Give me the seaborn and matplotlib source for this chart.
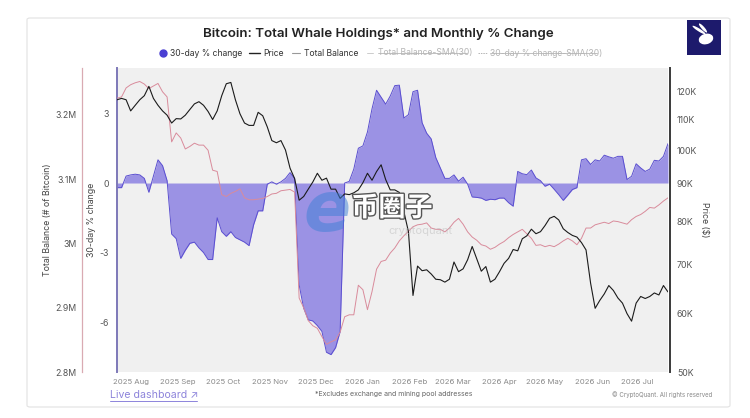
import matplotlib
matplotlib.use('Agg')
import matplotlib.pyplot as plt
import matplotlib.dates as mdates
import matplotlib.patheffects as pe
from matplotlib.patches import Rectangle, FancyBboxPatch, Ellipse
from matplotlib.lines import Line2D
from matplotlib.ticker import FixedLocator, NullLocator
import seaborn as sns
import pandas as pd

dates = pd.date_range('2025-07-23', periods=122, freq='3D')

pct_change = [
    -0.2, -0.2, 0.3, 0.35, 0.38, 0.35, 0.2, -0.4, 0.3, 1.0,
    0.75, 0.1, -2.2, -2.4, -3.25, -2.9, -2.6, -2.55, -2.8, -3.0,
    -3.3, -3.3, -1.5, -2.1, -2.3, -2.1, -2.35, -2.45, -2.55, -2.7,
    -1.8, -1.2, -1.2, -0.05, 0.05, -0.05, 0.05, 0.2, 0.45, 0.2,
    -4.4, -5.4, -5.9, -5.95, -6.15, -6.4, -7.3, -7.4, -7.1, -6.4,
    0.0, 0.07, 0.6, 1.5, 1.6, 2.2, 3.2, 4.0, 3.7, 3.4,
    3.75, 4.2, 4.22, 2.8, 2.95, 3.94, 4.0, 2.6, 2.15, 1.9,
    1.1, 0.65, 0.2, 0.2, 0.35, 0.08, 0.25, -0.05, -0.6, -0.62,
    -0.65, -0.75, -0.7, -0.72, -0.65, -0.65, -0.85, -1.0, 0.5, 0.4,
    0.36, 0.56, 0.22, 0.1, -0.14, -0.05, -0.27, -0.5, -0.75, -0.52,
    -0.28, -0.2, 1.0, 1.05, 0.8, 1.0, 0.95, 1.2, 1.13, 1.07,
    1.15, 1.15, 0.15, 0.29, 0.83, 0.65, 0.5, 0.6, 0.98, 0.95,
    1.15, 1.7,
]

price = [
    117, 117.5, 117, 113, 115, 117, 118.5, 122, 117.5, 115,
    113, 111.5, 108.8, 110.3, 110.2, 111.5, 113.5, 115.5, 116.3, 115,
    112.8, 110, 113, 118.5, 123, 123.5, 117, 112, 108.8, 108,
    108, 112.5, 111.3, 107.5, 103, 102.3, 103, 100, 94.5, 91.5,
    85.5, 86.5, 88.5, 90.5, 93, 91, 91.6, 88.5, 88.5, 86,
    87.2, 87, 87.5, 88.3, 90.3, 93, 91, 93.5, 95.5, 91.2,
    88.3, 88.3, 87.6, 82.5, 77.5, 63.5, 69.6, 68.6, 68.8, 67.9,
    66.8, 66.7, 66.2, 66.8, 70.5, 68.4, 69, 71, 74, 71.2,
    68.5, 69.5, 66.2, 66.8, 68.4, 70.2, 71.3, 73.3, 73, 75.8,
    76.5, 78.1, 77, 77.5, 79, 80.8, 81.3, 80.4, 78.2, 77.3,
    76.6, 76.2, 74.9, 73.2, 66, 61, 62.5, 63.8, 65.5, 64.5,
    63, 62, 60, 58.6, 62, 63.3, 62.9, 63.3, 64, 63.6,
    65.5, 64.2,
]  # in Tausend USD

balance = [
    3.226, 3.228, 3.242, 3.247, 3.250, 3.252, 3.248, 3.241, 3.245, 3.249,
    3.236, 3.228, 3.158, 3.172, 3.164, 3.147, 3.151, 3.156, 3.153, 3.153,
    3.145, 3.114, 3.112, 3.076, 3.073, 3.078, 3.081, 3.085, 3.071, 3.068,
    3.068, 3.069, 3.070, 3.073, 3.077, 3.078, 3.082, 3.083, 3.084, 3.080,
    2.915, 2.900, 2.880, 2.872, 2.868, 2.855, 2.843, 2.847, 2.850, 2.862,
    2.886, 2.889, 2.889, 2.935, 2.928, 2.897, 2.925, 2.960, 2.972, 2.974,
    2.985, 2.993, 3.004, 3.012, 3.019, 3.026, 3.029, 3.030, 3.032, 3.024,
    3.022, 3.022, 3.018, 3.024, 3.033, 3.039, 3.030, 3.018, 3.010, 3.005,
    2.998, 2.996, 2.991, 2.994, 2.999, 3.003, 3.009, 3.014, 3.018, 3.022,
    3.015, 3.008, 2.997, 2.998, 2.995, 2.997, 2.995, 2.999, 3.004, 3.008,
    3.004, 2.998, 3.008, 3.024, 3.024, 3.029, 3.031, 3.033, 3.031, 3.035,
    3.034, 3.032, 3.030, 3.037, 3.042, 3.045, 3.050, 3.056, 3.055, 3.060,
    3.066, 3.071,
]  # in Millionen BTC

pct_ticks = [-6, -3, 0, 3]
bal_ticks = [2.8, 2.9, 3.0, 3.1, 3.2]
bal_labels = ['2.8M', '2.9M', '3M', '3.1M', '3.2M']
price_ticks = [50, 60, 70, 80, 90, 100, 110, 120]
price_labels = ['50K', '60K', '70K', '80K', '90K', '100K', '110K', '120K']

df = pd.DataFrame({'date': dates, 'pct': pct_change,
                   'price': [p * 1000 for p in price],
                   'balance': [b * 1e6 for b in balance]})

sns.set_style('white')
plt.rcParams['font.family'] = ['Inter', 'DejaVu Sans']

W, H = 750, 418
fig = plt.figure(figsize=(W / 100, H / 100), dpi=100, facecolor='white')


def fx(x):
    return x / W


def fy(y):
    return 1 - y / H


# Karte im Hintergrund
card = FancyBboxPatch((fx(27), fy(407)), fx(730) - fx(27), fy(18) - fy(407),
                      boxstyle='round,pad=0,rounding_size=0.004',
                      transform=fig.transFigure, facecolor='white',
                      edgecolor='#e2e2e2', lw=0.8, zorder=-5)
fig.patches.append(card)

L, R, T, B = 117, 668, 68, 372
ax = fig.add_axes([fx(L), fy(B), (R - L) / W, (B - T) / H])
ax.set_facecolor('#f0f0f0')

# 30-Tage-Veränderung als Fläche
ax.fill_between(df['date'], df['pct'], 0, color='#978de4', lw=0, alpha=0.95)
sns.lineplot(data=df, x='date', y='pct', ax=ax, color='#5a4ed0', lw=0.7)
ax.set_ylim(-8.15, 4.96)
ax.yaxis.set_major_locator(FixedLocator(pct_ticks))
ax.set_yticklabels([str(t) for t in pct_ticks])

# Bestand
ax_bal = ax.twinx()
sns.lineplot(data=df, x='date', y='balance', ax=ax_bal, color='#d98b9b', lw=0.7)
ax_bal.set_ylim(2.8e6, 3.273e6)
ax_bal.yaxis.set_major_locator(FixedLocator([t * 1e6 for t in bal_ticks]))
ax_bal.set_yticklabels(bal_labels)
ax_bal.yaxis.tick_left()
ax_bal.yaxis.set_label_position('left')
ax_bal.spines['left'].set_position(('axes', (82 - L) / (R - L)))

# Preis (logarithmisch)
ax_pr = ax.twinx()
sns.lineplot(data=df, x='date', y='price', ax=ax_pr, color='#1b1b1b', lw=0.8)
ax_pr.set_yscale('log')
ax_pr.set_ylim(50000, 129200)
ax_pr.yaxis.set_major_locator(FixedLocator([t * 1000 for t in price_ticks]))
ax_pr.yaxis.set_minor_locator(NullLocator())
ax_pr.set_yticklabels(price_labels)

ax.set_xlim(df['date'].iloc[0], df['date'].iloc[-1])
ax.xaxis.set_major_locator(mdates.MonthLocator())
ax.xaxis.set_major_formatter(mdates.DateFormatter('%Y %b'))

for a in (ax, ax_bal, ax_pr):
    for s in a.spines.values():
        s.set_visible(False)
    a.set_xlabel('')
    a.tick_params(axis='y', length=0, labelsize=6.3, colors='#555555')
    a.tick_params(axis='x', length=0, labelsize=5.6, colors='#8a8a8a', pad=5)

ax.spines['left'].set_visible(True)
ax.spines['left'].set_color('#7d78b8')
ax.spines['left'].set_linewidth(1.4)
ax_bal.spines['left'].set_visible(True)
ax_bal.spines['left'].set_color('#d9aab2')
ax_bal.spines['left'].set_linewidth(0.9)
ax_pr.spines['right'].set_visible(True)
ax_pr.spines['right'].set_color('#3a3a3a')
ax_pr.spines['right'].set_linewidth(1.4)
ax_pr.spines['right'].set_position(('axes', (670 - L) / (R - L)))

ax.tick_params(axis='y', pad=6)
ax_bal.tick_params(axis='y', pad=4)
ax_pr.tick_params(axis='y', pad=5)

ax.set_ylabel('30-day % change', fontsize=6.3, color='#444444')
ax.yaxis.set_label_coords((96 - L) / (R - L), 0.5)
ax_bal.set_ylabel('Total Balance (# of Bitcoin)', fontsize=6.3, color='#444444')
ax_bal.yaxis.set_label_coords((52 - L) / (R - L), 0.5)
ax_pr.set_ylabel('Price ($)', fontsize=6.3, color='#444444', rotation=270)
ax_pr.yaxis.set_label_coords((709 - L) / (R - L), 0.5)

# Titel
fig.text(fx(378), fy(34), 'Bitcoin: Total Whale Holdings* and Monthly % Change',
         ha='center', va='center', fontsize=9.6, fontweight='semibold', color='#222222')

# Legende (manuell)
ly = fy(53)
fig.add_artist(Line2D([fx(162.7)], [ly], marker='o', ms=5, color='#4a3fd3',
                      transform=fig.transFigure))
fig.text(fx(170), ly, '30-day % change', fontsize=6.2, va='center', color='#333333')
fig.add_artist(Line2D([fx(249), fx(260)], [ly, ly], color='#222222', lw=1,
                      transform=fig.transFigure))
fig.text(fx(263), ly, 'Price', fontsize=6.2, va='center', color='#333333')
fig.add_artist(Line2D([fx(291.5), fx(300)], [ly, ly], color='#999999', lw=0.8,
                      transform=fig.transFigure))
fig.text(fx(304), ly, 'Total Balance', fontsize=6.2, va='center', color='#333333')
fig.add_artist(Line2D([fx(366.5), fx(373)], [ly, ly], color='#cccccc', lw=0.7,
                      transform=fig.transFigure))
fig.text(fx(378), ly, 'Total Balance-SMA(30)', fontsize=6.2, va='center',
         color='#b5b5b5')
fig.add_artist(Line2D([fx(378), fx(467)], [ly, ly], color='#b5b5b5', lw=0.6,
                      transform=fig.transFigure))
fig.add_artist(Line2D([fx(478), fx(487)], [ly, ly], color='#b5b5b5', lw=0.7,
                      ls=(0, (1.5, 1)), transform=fig.transFigure))
fig.text(fx(490), ly, '30-day % change-SMA(30)', fontsize=6.2, va='center',
         color='#b5b5b5')
fig.add_artist(Line2D([fx(490), fx(597)], [ly, ly], color='#b5b5b5', lw=0.6,
                      transform=fig.transFigure))

# Logo oben rechts
fig.patches.append(Rectangle((fx(687), fy(55)), fx(721) - fx(687), fy(20) - fy(55),
                             transform=fig.transFigure, facecolor='#1d1a6c', lw=0))
fig.patches.append(Ellipse((fx(706), fy(39)), fx(14), 11 / H, angle=-15,
                           transform=fig.transFigure, facecolor='white', lw=0))
fig.patches.append(Ellipse((fx(699), fy(30)), fx(4), 11 / H, angle=40,
                           transform=fig.transFigure, facecolor='white', lw=0))
fig.patches.append(Ellipse((fx(703), fy(28)), fx(3.5), 10 / H, angle=25,
                           transform=fig.transFigure, facecolor='white', lw=0))

# Wasserzeichen
fig.text(fx(327), fy(211), 'e', fontsize=50, fontstyle='italic', fontweight='bold',
         color='#3d7fd6', alpha=0.5, ha='center', va='center', family='DejaVu Sans')
fig.text(fx(420), fy(231), 'cryptoquant', fontsize=8, color='#bbbbbb', alpha=0.5,
         ha='center', va='center')
fig.text(fx(392), fy(208), '币圈子', fontsize=19.5, color='white', ha='center',
         va='center', family=['Noto Sans CJK SC', 'DejaVu Sans'], fontweight='bold',
         path_effects=[pe.withStroke(linewidth=2, foreground='#555555')])

# Fußzeile
fig.text(fx(110), fy(395), 'Live dashboard ↗', fontsize=7.6, color='#8d84db',
         va='center', family=['Inter', 'DejaVu Sans'])
fig.add_artist(Line2D([fx(110), fx(197)], [fy(401), fy(401)], color='#8d84db', lw=0.7,
                      transform=fig.transFigure))
fig.text(fx(394), fy(394), '*Excludes exchange and mining pool addresses', fontsize=5,
         color='#666666', ha='center', va='center')
fig.text(fx(712), fy(395), '© CryptoQuant. All rights reserved', fontsize=4.4,
         color='#8a8a8a', ha='right', va='center')

fig.savefig('out.png', dpi=100, facecolor='white')
